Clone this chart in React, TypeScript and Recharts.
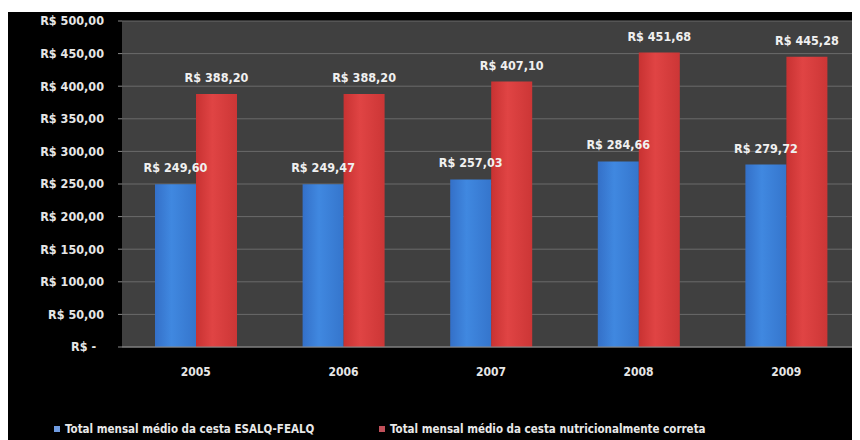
import { BarChart, Bar, XAxis, YAxis, CartesianGrid, Legend, LabelList } from 'recharts'

const years = ['2005', '2006', '2007', '2008', '2009']
const esalq = [249.6, 249.47, 257.03, 284.66, 279.72]
const nutricional = [388.2, 388.2, 407.1, 451.68, 445.28]
const yTicks = [0, 50, 100, 150, 200, 250, 300, 350, 400, 450, 500]

const seriesNames = {
  esalq: 'Total mensal médio da cesta ESALQ-FEALQ',
  nutricional: 'Total mensal médio da cesta nutricionalmente correta',
}

const data = years.map((year, i) => ({
  year,
  esalq: esalq[i],
  nutricional: nutricional[i],
}))

const FONT = '"DejaVu Sans Condensed", "DejaVu Sans", sans-serif'

const money = (v: number) => 'R$ ' + v.toFixed(2).replace('.', ',')
// accounting style zero, dash sits a bit left of the decimals
const yFormat = (v: number) => (v === 0 ? 'R$ -\u00a0\u00a0' : money(v))

// label above each bar, no wrapping
const valueLabel = (props: any) => {
  const { x, y, width, value } = props
  return (
    <text
      x={Number(x) + Number(width) / 2}
      y={Number(y) - 12}
      textAnchor="middle"
      fill="#f0f0f0"
      fontSize={12.5}
      fontWeight="bold"
      fontFamily={FONT}
    >
      {money(Number(value))}
    </text>
  )
}

const renderLegend = () => (
  <div style={{ position: 'relative', height: 20, fontFamily: FONT, fontSize: 11.5, fontWeight: 'bold', color: '#e8e8e8' }}>
    <span style={{ position: 'absolute', left: 46, top: 4, display: 'flex', alignItems: 'center' }}>
      <span style={{ width: 6, height: 6, background: '#6f9be0', marginRight: 5 }} />
      {seriesNames.esalq}
    </span>
    <span style={{ position: 'absolute', left: 371, top: 4, display: 'flex', alignItems: 'center' }}>
      <span style={{ width: 6, height: 6, background: '#c0505a', marginRight: 5 }} />
      {seriesNames.nutricional}
    </span>
  </div>
)

export default function App() {
  return (
    <div style={{ marginTop: 4, width: 852, height: 428, background: '#000' }}>
      <BarChart
        width={852}
        height={428}
        data={data}
        margin={{ top: 9, right: 0, left: 0, bottom: 2 }}
        barGap={0}
        barCategoryGap={33}
      >
        <defs>
          <linearGradient id="gBlue" x1="0" y1="0" x2="1" y2="0">
            <stop offset="0%" stopColor="#3470c8" />
            <stop offset="40%" stopColor="#4088e0" />
            <stop offset="100%" stopColor="#3575cc" />
          </linearGradient>
          <linearGradient id="gRed" x1="0" y1="0" x2="1" y2="0">
            <stop offset="0%" stopColor="#c83232" />
            <stop offset="40%" stopColor="#e04444" />
            <stop offset="100%" stopColor="#cc3636" />
          </linearGradient>
        </defs>
        <CartesianGrid vertical={false} stroke="#6a6a6a" fill="#404040" />
        <XAxis
          dataKey="year"
          height={71}
          axisLine={{ stroke: '#8a8a8a' }}
          tickLine={false}
          tick={{ fill: '#e6e6e6', fontSize: 12, fontWeight: 'bold', fontFamily: FONT, dy: 12 }}
        />
        <YAxis
          width={114}
          domain={[0, 500]}
          ticks={yTicks}
          tickFormatter={yFormat}
          axisLine={false}
          tickLine={{ stroke: '#8a8a8a' }}
          tickSize={4}
          tick={{ fill: '#e6e6e6', fontSize: 12.5, fontWeight: 'bold', fontFamily: FONT, dx: -12 }}
        />
        <Legend verticalAlign="bottom" height={20} content={renderLegend} />
        <Bar dataKey="esalq" name={seriesNames.esalq} fill="url(#gBlue)" barSize={41} isAnimationActive={false}>
          <LabelList dataKey="esalq" content={valueLabel} />
        </Bar>
        <Bar dataKey="nutricional" name={seriesNames.nutricional} fill="url(#gRed)" barSize={41} isAnimationActive={false}>
          <LabelList dataKey="nutricional" content={valueLabel} />
        </Bar>
      </BarChart>
    </div>
  )
}
